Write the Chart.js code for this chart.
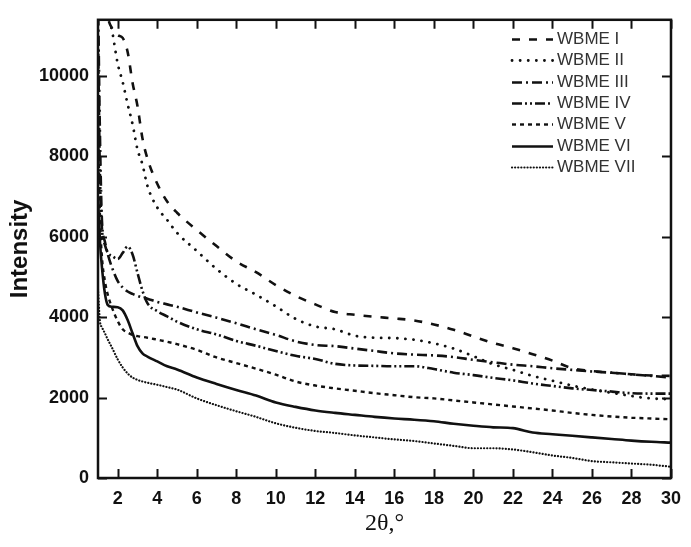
<!DOCTYPE html>
<html>
<head>
<meta charset="utf-8">
<title>WBME XRD</title>
<script src="https://cdn.jsdelivr.net/npm/chart.js@4.4.1/dist/chart.umd.min.js"></script>
<style>
  html, body { margin: 0; padding: 0; background: #fff; }
  canvas { display: block; }
</style>
</head>
<body>
<canvas id="xrd" width="691" height="547"></canvas>
<script>
// 2-theta positions (deg) shared by all samples
const twoTheta = [1, 1.1, 1.2, 1.35, 1.5, 1.7, 2, 2.25, 2.5, 2.75, 3, 3.25, 3.5, 4, 4.5, 5,
    6, 7, 8, 9, 10, 11, 12, 13, 14, 15, 16, 17, 18, 19, 20, 21, 22, 23, 24, 25, 26, 27, 28, 29, 30];

// intensities per sample
const wbme1 = [16000, 14000, 12800, 11900, 11450, 11200, 11020, 10950, 10600, 9830, 9250, 8450, 7950, 7320, 6880, 6600,
    6170, 5770, 5390, 5120, 4800, 4530, 4320, 4130, 4060, 4010, 3970, 3920, 3820, 3690, 3520, 3360, 3230, 3080, 2920, 2730, 2660, 2620, 2580, 2550, 2540];
const wbme2 = [15000, 13500, 12600, 11900, 11500, 11150, 10300, 9850, 9300, 8800, 8170, 7800, 7270, 6730, 6420, 6100,
    5650, 5200, 4830, 4560, 4270, 3960, 3770, 3700, 3540, 3490, 3480, 3440, 3350, 3220, 3030, 2830, 2690, 2540, 2420, 2300, 2200, 2120, 2040, 1980, 1960];
const wbme3 = [12000, 8500, 6400, 5880, 5560, 5250, 4900, 4740, 4640, 4580, 4530, 4490, 4460, 4380, 4320, 4260,
    4120, 3990, 3850, 3700, 3560, 3400, 3310, 3280, 3220, 3160, 3100, 3070, 3050, 3010, 2940, 2880, 2820, 2780, 2730, 2690, 2650, 2620, 2580, 2540, 2500];
const wbme4 = [11000, 7500, 6200, 5800, 5600, 5530, 5450, 5600, 5760, 5560, 5100, 4660, 4350, 4150, 4020, 3890,
    3700, 3570, 3410, 3290, 3160, 3040, 2960, 2840, 2800, 2790, 2780, 2780, 2710, 2620, 2560, 2490, 2430, 2350, 2290, 2230, 2190, 2150, 2110, 2100, 2100];
const wbme5 = [9000, 6500, 5500, 4900, 4550, 4250, 3900, 3700, 3620, 3560, 3530, 3510, 3490, 3440, 3390, 3330,
    3190, 3000, 2860, 2720, 2570, 2400, 2300, 2230, 2170, 2110, 2060, 2010, 1980, 1930, 1880, 1830, 1780, 1730, 1680, 1620, 1570, 1530, 1500, 1480, 1460];
const wbme6 = [7000, 5880, 5240, 4590, 4300, 4260, 4250, 4170, 3930, 3600, 3280, 3100, 3020, 2900, 2780, 2700,
    2500, 2340, 2190, 2050, 1880, 1770, 1680, 1620, 1570, 1520, 1480, 1450, 1410, 1350, 1300, 1260, 1240, 1130, 1090, 1050, 1010, 970, 930, 900, 880];
const wbme7 = [4700, 3900, 3750, 3600, 3440, 3250, 2950, 2750, 2600, 2500, 2440, 2400, 2370, 2320, 2260, 2200,
    1980, 1810, 1660, 1520, 1360, 1250, 1170, 1120, 1060, 1010, 960, 920, 860, 800, 740, 740, 710, 640, 560, 500, 420, 390, 360, 330, 280];

const sampleNames = ['WBME I', 'WBME II', 'WBME III', 'WBME IV', 'WBME V', 'WBME VI', 'WBME VII'];
const xTicks = [2, 4, 6, 8, 10, 12, 14, 16, 18, 20, 22, 24, 26, 28, 30];
const yTicks = [0, 2000, 4000, 6000, 8000, 10000];

const INK = '#111';

// line pattern for each sample (dotted ones use round caps)
const dashes = [
    [8, 9],
    [0.1, 8],
    [10, 4, 2, 4],
    [10, 3, 2, 3, 2, 3],
    [4, 4],
    [],
    [0.1, 3]
];
const caps = ['butt', 'round', 'butt', 'butt', 'butt', 'butt', 'round'];
const widths = [2.6, 2.8, 2.6, 2.6, 2.4, 2.6, 2.2];

function toPoints(values) {
    return twoTheta.map((x, i) => ({ x: x, y: values[i] }));
}

const seriesValues = [wbme1, wbme2, wbme3, wbme4, wbme5, wbme6, wbme7];

const datasets = seriesValues.map((vals, i) => ({
    label: sampleNames[i],
    data: toPoints(vals),
    borderColor: INK,
    borderWidth: widths[i],
    borderDash: dashes[i],
    borderCapStyle: caps[i],
    pointRadius: 0,
    fill: false,
    cubicInterpolationMode: 'monotone'
}));

// box frame with inward ticks on all four sides
const framePlugin = {
    id: 'frame',
    afterDatasetsDraw(chart) {
        const { ctx, chartArea: a, scales } = chart;
        const len = 9;
        ctx.save();
        ctx.strokeStyle = INK;
        ctx.lineWidth = 2.5;
        ctx.strokeRect(a.left, a.top, a.right - a.left, a.bottom - a.top);
        ctx.lineWidth = 2;
        ctx.beginPath();
        xTicks.forEach(v => {
            const px = Math.round(scales.x.getPixelForValue(v)) + 0.5;
            ctx.moveTo(px, a.bottom);
            ctx.lineTo(px, a.bottom - len);
            ctx.moveTo(px, a.top);
            ctx.lineTo(px, a.top + len);
        });
        yTicks.forEach(v => {
            const py = Math.round(scales.y.getPixelForValue(v)) + 0.5;
            ctx.moveTo(a.left, py);
            ctx.lineTo(a.left + len, py);
            ctx.moveTo(a.right, py);
            ctx.lineTo(a.right - len, py);
        });
        ctx.stroke();
        ctx.restore();
    }
};

// legend block in the upper right corner
const legendPlugin = {
    id: 'cornerLegend',
    afterDraw(chart) {
        const { ctx } = chart;
        const x0 = 512, x1 = 553, textX = 557;
        const top = 39, step = 21.3;
        ctx.save();
        ctx.font = '17px "Liberation Sans", Arial, sans-serif';
        ctx.textBaseline = 'middle';
        ctx.textAlign = 'left';
        chart.data.datasets.forEach((ds, i) => {
            const y = Math.round(top + i * step) + 0.5;
            ctx.strokeStyle = INK;
            ctx.lineWidth = ds.borderWidth;
            ctx.lineCap = ds.borderCapStyle;
            ctx.setLineDash(ds.borderDash);
            ctx.beginPath();
            ctx.moveTo(x0, y);
            ctx.lineTo(x1, y);
            ctx.stroke();
            ctx.setLineDash([]);
            ctx.fillStyle = '#333';
            ctx.fillText(ds.label, textX, y);
        });
        ctx.restore();
    }
};

new Chart(document.getElementById('xrd'), {
    type: 'line',
    data: { datasets: datasets },
    options: {
        responsive: false,
        animation: false,
        layout: { padding: { left: 0, right: 13, top: 11, bottom: 0 } },
        plugins: {
            legend: { display: false },
            tooltip: { enabled: false }
        },
        scales: {
            x: {
                type: 'linear',
                min: 1,
                max: 30,
                afterBuildTicks: (scale) => { scale.ticks = xTicks.map(v => ({ value: v })); },
                afterFit: (scale) => { scale.height = 69; },
                grid: { display: false, drawTicks: false },
                border: { display: false },
                ticks: {
                    color: INK,
                    padding: 10,
                    maxRotation: 0,
                    callback: (v) => String(v),
                    font: { family: '"Liberation Sans", Arial, sans-serif', size: 18, weight: 'bold' }
                },
                title: {
                    display: true,
                    text: '2θ,°',
                    color: INK,
                    padding: { bottom: 9, top: 0 },
                    font: { family: '"Liberation Serif", "Times New Roman", serif', size: 24 }
                }
            },
            y: {
                type: 'linear',
                min: 0,
                max: 11400,
                afterBuildTicks: (scale) => { scale.ticks = yTicks.map(v => ({ value: v })); },
                afterFit: (scale) => { scale.width = 98; },
                grid: { display: false, drawTicks: false },
                border: { display: false },
                ticks: {
                    color: INK,
                    padding: 9,
                    callback: (v) => String(v),
                    font: { family: '"Liberation Sans", Arial, sans-serif', size: 18, weight: 'bold' }
                },
                title: {
                    display: true,
                    text: 'Intensity',
                    color: INK,
                    padding: { top: 6, bottom: 0 },
                    font: { family: '"Liberation Sans", Arial, sans-serif', size: 24, weight: 'bold' }
                }
            }
        }
    },
    plugins: [framePlugin, legendPlugin]
});
</script>
</body>
</html>
